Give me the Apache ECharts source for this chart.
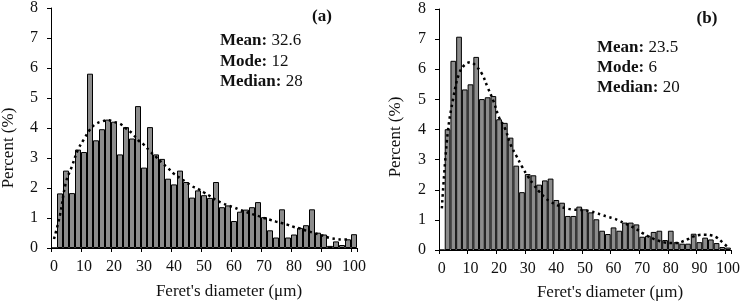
<!DOCTYPE html>
<html>
<head>
<meta charset="utf-8">
<title>Feret's diameter histograms</title>
<script src="https://cdn.jsdelivr.net/npm/echarts@6/dist/echarts.min.js"></script>
<style>
  html, body { margin: 0; padding: 0; background: #fff; }
  #chart { width: 743px; height: 304px; }
</style>
</head>
<body>
<div id="chart"></div>
<script>
  // 分箱（每 2 μm 一组），x 轴每 5 个类目标一个刻度
  const bins = ['0', '2', '4', '6', '8', '10', '12', '14', '16', '18',
    '20', '22', '24', '26', '28', '30', '32', '34', '36', '38',
    '40', '42', '44', '46', '48', '50', '52', '54', '56', '58',
    '60', '62', '64', '66', '68', '70', '72', '74', '76', '78',
    '80', '82', '84', '86', '88', '90', '92', '94', '96', '98', '100']

  // (a) 柱高 (%)
  const percentA = [0, 1.82, 2.58, 1.83, 3.28, 3.2, 5.81, 3.59, 3.96, 4.28,
    4.21, 3.12, 4.03, 3.65, 4.73, 2.68, 4.03, 3.12, 2.97, 2.31,
    2.12, 2.58, 2.2, 1.68, 1.92, 1.76, 1.67, 2.2, 1.36, 1.42,
    0.9, 1.21, 1.28, 1.36, 1.53, 1.03, 0.59, 0.35, 1.29, 0.35,
    0.45, 0.67, 0.76, 1.29, 0.51, 0.45, 0.07, 0.22, 0.1, 0.29, 0.46]
  // (a) 拟合曲线（虚点线）
  const fitA = [0.3, 1.1, 2.2, 2.73, 3.28, 3.63, 3.95, 4.14, 4.22, 4.26,
    4.2, 4.14, 3.98, 3.83, 3.6, 3.44, 3.22, 3.04, 2.84, 2.66,
    2.47, 2.33, 2.2, 2.06, 1.97, 1.85, 1.73, 1.6, 1.5, 1.42,
    1.35, 1.27, 1.2, 1.13, 1.07, 1.0, 0.94, 0.88, 0.83, 0.77,
    0.7, 0.65, 0.58, 0.52, 0.46, 0.4, 0.33, 0.3, 0.28, 0.28, '-']

  // (b) 柱高 (%)
  const percentB = [0, 4.01, 6.28, 7.08, 5.33, 5.5, 6.41, 5.01, 5.07, 5.11,
    4.34, 4.22, 3.73, 2.8, 1.92, 2.52, 2.48, 2.17, 2.31, 2.37,
    1.66, 1.57, 1.13, 1.13, 1.44, 1.35, 1.25, 1.02, 0.64, 0.53,
    0.75, 0.64, 0.91, 0.91, 0.85, 0.44, 0.47, 0.6, 0.64, 0.33,
    0.64, 0.26, 0.21, 0.21, 0.54, 0.26, 0.41, 0.35, 0.23, 0.1, 0.08]
  // (b) 拟合曲线
  const fitB = [1.38, 3.85, 5.05, 5.85, 6.15, 6.23, 6.1, 5.85, 5.4, 4.95,
    4.4, 4.05, 3.5, 3.13, 2.77, 2.45, 2.18, 1.94, 1.74, 1.6,
    1.5, 1.42, 1.37, 1.34, 1.33, 1.32, 1.28, 1.23, 1.16, 1.1,
    1.05, 0.97, 0.88, 0.79, 0.69, 0.57, 0.46, 0.37, 0.3, 0.25,
    0.23, 0.23, 0.28, 0.36, 0.45, 0.5, 0.51, 0.49, 0.42, 0.26, 0.09]

  // 统计量文字
  const statsA = [['Mean:', '32.6'], ['Mode:', '12'], ['Median:', '28']]
  const statsB = [['Mean:', '23.5'], ['Mode:', '6'], ['Median:', '20']]

  const font = "'Liberation Serif', 'Times New Roman', serif"
  const textColor = '#111'

  const xAxisOf = (gridIndex) => ({
    type: 'category',
    gridIndex,
    data: bins,
    boundaryGap: true,
    axisLine: { show: true, lineStyle: { color: '#000', width: 1 } },
    axisTick: { show: true, interval: 4, length: 4, lineStyle: { color: '#000' } },
    axisLabel: { interval: 4, margin: 11, fontSize: 16, fontFamily: font, color: textColor },
    splitLine: { show: false }
  })

  const yAxisOf = (gridIndex) => ({
    type: 'value',
    gridIndex,
    min: 0,
    max: 8,
    interval: 1,
    axisLine: { show: true, lineStyle: { color: '#000', width: 1 } },
    axisTick: { show: true, length: 4, lineStyle: { color: '#000' } },
    axisLabel: { margin: 13, fontSize: 16, fontFamily: font, color: textColor },
    splitLine: { show: false }
  })

  const barOf = (idx, data) => ({
    type: 'bar',
    xAxisIndex: idx,
    yAxisIndex: idx,
    data,
    barCategoryGap: '0%',
    itemStyle: { color: '#8c8c8c', borderColor: '#000', borderWidth: 1 },
    silent: true,
    z: 2
  })

  const fitOf = (idx, data) => ({
    type: 'line',
    xAxisIndex: idx,
    yAxisIndex: idx,
    data,
    smooth: 0.4,
    symbol: 'none',
    lineStyle: { color: '#000', width: 2.5, type: [2.5, 3.5] },
    silent: true,
    z: 3
  })

  /** 统计量：粗体标签 + 普通数值 */
  const statText = (list, x, y0, gap) =>
    list.map((item, i) => ({
      type: 'text',
      x,
      y: y0 + i * gap,
      style: {
        text: '{b|' + item[0] + '} ' + item[1],
        rich: { b: { fontWeight: 'bold', fontSize: 17, fontFamily: font, fill: textColor } },
        fontSize: 17,
        fontFamily: font,
        fill: textColor,
        verticalAlign: 'middle'
      }
    }))

  const label = (text, x, y, opts) => ({
    type: 'text',
    x,
    y,
    rotation: opts && opts.rotate ? Math.PI / 2 : 0,
    style: {
      text,
      fontSize: 17,
      fontFamily: font,
      fontWeight: opts && opts.bold ? 'bold' : 'normal',
      fill: textColor,
      align: 'center',
      verticalAlign: 'middle'
    }
  })

  const chart = echarts.init(document.getElementById('chart'))
  chart.setOption({
    animation: false,
    grid: [
      { left: 51, top: 8, width: 306, height: 240 },
      { left: 439, top: 9, width: 292, height: 241 }
    ],
    xAxis: [xAxisOf(0), xAxisOf(1)],
    yAxis: [yAxisOf(0), yAxisOf(1)],
    series: [barOf(0, percentA), fitOf(0, fitA), barOf(1, percentB), fitOf(1, fitB)],
    graphic: [
      ...statText(statsA, 220, 41, 20.5),
      ...statText(statsB, 597, 47.5, 20),
      label('(a)', 322, 17, { bold: true }),
      label('(b)', 707, 19, { bold: true }),
      label("Feret's diameter (μm)", 229, 292),
      label("Feret's diameter (μm)", 610, 293),
      label('Percent (%)', 9, 148, { rotate: true }),
      label('Percent (%)', 396, 137, { rotate: true })
    ]
  })
</script>
</body>
</html>
